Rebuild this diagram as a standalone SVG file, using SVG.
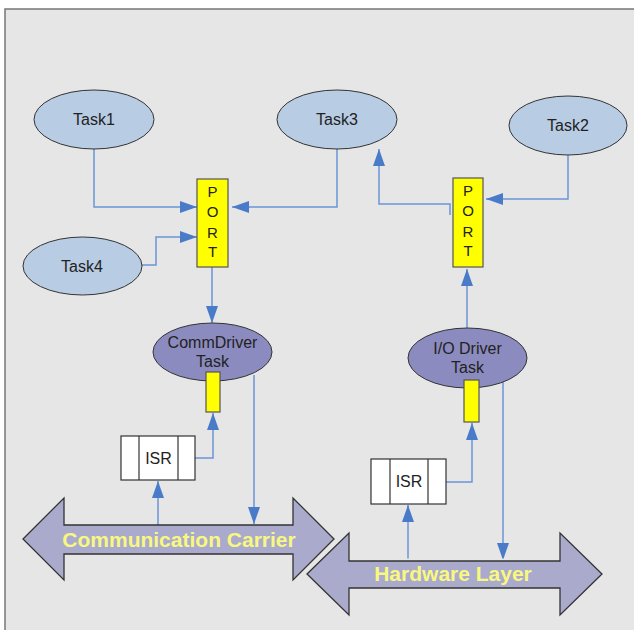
<svg xmlns="http://www.w3.org/2000/svg" width="634" height="630" viewBox="0 0 634 630">
<style>
.bg{fill:#e6e6e6;stroke:#777;stroke-width:1.5}
.task{fill:#b8cce4;stroke:#333;stroke-width:1}
.drv{fill:#8b8bbf;stroke:#333;stroke-width:1}
.port{fill:#ffff00;stroke:#555;stroke-width:1.2}
.isr{fill:#fff;stroke:#333;stroke-width:1.2}
.bus{fill:#aaaacc;stroke:#333;stroke-width:1.3}
.lbl{font-family:"Liberation Sans",Arial,sans-serif;font-size:16px;fill:#222;text-anchor:middle}
.pl{font-family:"Liberation Sans",Arial,sans-serif;font-size:15px;fill:#222;text-anchor:middle}
.bl{font-family:"Liberation Sans",Arial,sans-serif;font-size:21px;font-weight:bold;fill:#f8f880;text-anchor:middle}
.c{fill:none;stroke:#6b95d6;stroke-width:1.5}
</style>
<defs>
<marker id="ah" markerWidth="17" markerHeight="12" refX="17" refY="6" orient="auto" markerUnits="userSpaceOnUse">
<path d="M0,0 L17,6 L0,12 Z" fill="#4a7bc8"/>
</marker>
</defs>
<rect x="0" y="0" width="634" height="630" fill="#fff"/>
<rect class="bg" x="5" y="9" width="640" height="640"/>

<g id="connectors">
<path class="c" d="M94,149 V207 H197" marker-end="url(#ah)"/>
<path class="c" d="M337,149 V207 H232" marker-end="url(#ah)"/>
<path class="c" d="M142,265 H156 V237 H197" marker-end="url(#ah)"/>
<path class="c" d="M212,267 V323" marker-end="url(#ah)"/>
<path class="c" d="M195,458 H213 V413" marker-end="url(#ah)"/>
<path class="c" d="M254,375 V524" marker-end="url(#ah)"/>
<path class="c" d="M158,525 V481" marker-end="url(#ah)"/>
<path class="c" d="M450,215 V204 H379 V149" marker-end="url(#ah)"/>
<path class="c" d="M568,155 V199 H486" marker-end="url(#ah)"/>
<path class="c" d="M467,328 V269" marker-end="url(#ah)"/>
<path class="c" d="M446,482 H472 V423" marker-end="url(#ah)"/>
<path class="c" d="M503,378 V560" marker-end="url(#ah)"/>
<path class="c" d="M408,561 V505" marker-end="url(#ah)"/>
</g>

<g id="task1"><ellipse class="task" cx="94" cy="119.5" rx="60" ry="29.5"/><text class="lbl" x="94" y="125">Task1</text></g>
<g id="task3"><ellipse class="task" cx="337" cy="119.5" rx="60" ry="29.5"/><text class="lbl" x="337" y="125">Task3</text></g>
<g id="task2"><ellipse class="task" cx="568" cy="125.5" rx="59" ry="29.5"/><text class="lbl" x="568" y="131">Task2</text></g>
<g id="task4"><ellipse class="task" cx="82.5" cy="266" rx="59.5" ry="29"/><text class="lbl" x="82" y="272">Task4</text></g>

<g id="port1"><rect class="port" x="197" y="179" width="31" height="88"/>
<text class="pl" x="212.5" y="197">P</text><text class="pl" x="212.5" y="217">O</text><text class="pl" x="212.5" y="238">R</text><text class="pl" x="212.5" y="257">T</text></g>
<g id="port2"><rect class="port" x="453" y="178" width="30" height="89"/>
<text class="pl" x="468" y="196">P</text><text class="pl" x="468" y="216">O</text><text class="pl" x="468" y="237">R</text><text class="pl" x="468" y="256">T</text></g>

<g id="commdriver"><ellipse class="drv" cx="212.5" cy="352" rx="59.5" ry="29"/>
<text class="lbl" x="212.5" y="348">CommDriver</text><text class="lbl" x="212.5" y="367">Task</text>
<rect class="port" x="206" y="372" width="14" height="40"/></g>
<g id="iodriver"><ellipse class="drv" cx="467.5" cy="358" rx="59.5" ry="30"/>
<text class="lbl" x="467.5" y="354">I/O Driver</text><text class="lbl" x="467.5" y="373">Task</text>
<rect class="port" x="464" y="380" width="15" height="42"/></g>

<g id="isr1"><rect class="isr" x="121" y="436" width="74" height="44"/>
<line class="isr" x1="139" y1="436" x2="139" y2="480"/><line class="isr" x1="178" y1="436" x2="178" y2="480"/>
<text class="lbl" x="158.5" y="464">ISR</text></g>
<g id="isr2"><rect class="isr" x="371" y="459" width="75" height="45"/>
<line class="isr" x1="390" y1="459" x2="390" y2="504"/><line class="isr" x1="428" y1="459" x2="428" y2="504"/>
<text class="lbl" x="409" y="487">ISR</text></g>

<g id="comm-carrier"><polygon class="bus" points="23,539 64,498 64,525 293,525 293,498 334,539 293,580 293,554 64,554 64,580"/>
<text class="bl" x="179" y="547">Communication Carrier</text></g>
<g id="hardware-layer"><polygon points="307,574 349,533 349,561 560,561 560,533 602,574 560,615 560,588 349,588 349,615" fill="none" stroke="#e6e6e6" stroke-width="5"/>
<polygon class="bus" points="307,574 349,533 349,561 560,561 560,533 602,574 560,615 560,588 349,588 349,615"/>
<text class="bl" x="453" y="581">Hardware Layer</text></g>
</svg>
